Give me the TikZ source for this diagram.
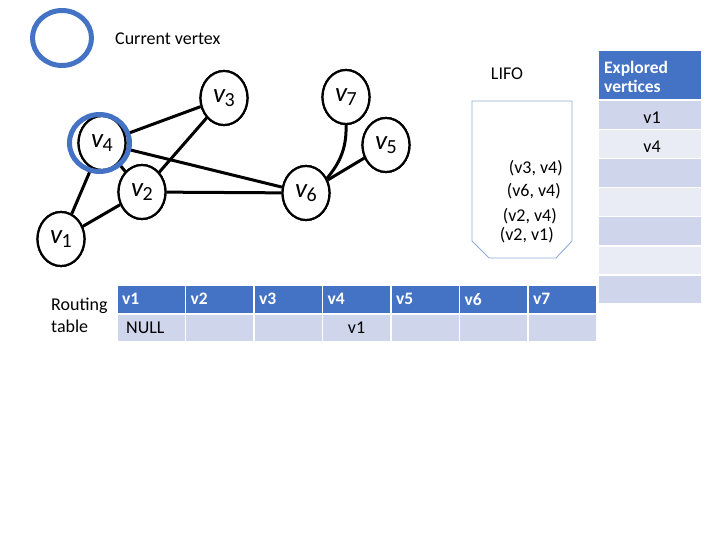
\documentclass[tikz,border=0pt]{standalone}
\usepackage{fontspec}
\setmainfont{Carlito}
\usetikzlibrary{shapes.geometric}
\definecolor{hblue}{HTML}{4472C4}
\definecolor{rowdark}{HTML}{CFD5EA}
\definecolor{rowlight}{HTML}{E9EBF5}
\definecolor{lifoline}{HTML}{8EAADB}
\newcommand\vlab[1]{\fontsize{27}{27}\selectfont\textit{v}\kern-1pt\raisebox{-4pt}{\fontsize{20}{20}\selectfont #1}}
\begin{document}
\begin{tikzpicture}[x=1pt,y=-1pt,
  vert/.style={ellipse, draw=black, line width=2.2pt, minimum width=47pt, minimum height=54pt, inner sep=0pt, fill=white},
  edge/.style={line width=3pt},
  curcirc/.style={draw=hblue, line width=5pt},
  txt/.style={font=\fontsize{18}{21}\selectfont, inner sep=0pt},
  hcell/.style={fill=hblue, draw=white, line width=1.5pt, anchor=north west, inner sep=0pt, minimum width=68.5pt, minimum height=29pt},
  dcell/.style={fill=rowdark, draw=white, line width=1.5pt, anchor=north west, inner sep=0pt, minimum width=68.5pt, minimum height=28pt},
  htxt/.style={font=\fontsize{17.5}{20}\selectfont\bfseries, text=white, inner sep=0pt, anchor=west},
  ecell/.style={draw=white, line width=1.5pt, anchor=north west, inner sep=0pt, minimum width=104pt, minimum height=29pt}
]
\useasboundingbox (0,0) rectangle (720,540);

% legend
\draw[curcirc] (62,38) ellipse [x radius=29.5, y radius=27.5];
\node[txt, anchor=west] (legend) at (115,39) {Current vertex};

% graph vertices
\node[vert] (v1) at (61,239) {\vlab{1}};
\node[vert] (v2) at (142,192) {\vlab{2}};
\node[vert] (v3) at (224,98) {\vlab{3}};
\node[vert] (v4) at (102,143) {\vlab{4}};
\node[vert] (v5) at (386,145) {\vlab{5}};
\node[vert] (v6) at (306,193) {\vlab{6}};
\node[vert] (v7) at (346,97) {\vlab{7}};

% edges (drawn, then vertices redrawn on top)
\draw[edge] (v4) -- (v3);
\draw[edge] (v3) -- (v2);
\draw[edge] (v4) -- (v6);
\draw[edge] (v2) -- (v6);
\draw[edge] (v4) -- (v1);
\draw[edge] (v1) -- (v2);
\draw[edge] (v4) -- (v2);
\draw[edge] (v5) -- (v6);
\draw[edge] (v7.south) .. controls (347,150) and (338,165) .. (v6.35);

\node[vert] at (v1) {\vlab{1}};
\node[vert] at (v2) {\vlab{2}};
\node[vert] at (v3) {\vlab{3}};
\node[vert] at (v5) {\vlab{5}};
\node[vert] at (v6) {\vlab{6}};
\node[vert] at (v7) {\vlab{7}};
\node[vert] at (v4) {\vlab{4}};
\draw[curcirc] (99.5,143) ellipse [x radius=30, y radius=28.5];

% LIFO
\node[txt] (lifo) at (507,74) {LIFO};
\draw[lifoline, line width=0.9pt] (472,101) -- (572,101) -- (572,241) -- (556,258) -- (489,258) -- (472,241) -- cycle;
\node[txt, anchor=east] (s1) at (563,168) {(v3, v4)};
\node[txt, anchor=east] (s2) at (561,191) {(v6, v4)};
\node[txt, anchor=east] (s3) at (557,216) {(v2, v4)};
\node[txt, anchor=east] (s4) at (554,235) {(v2, v1)};

% explored vertices
\node[ecell, fill=hblue, minimum height=49pt] (eh) at (597,50) {};
\node[htxt, align=left] (ehtxt) at (604,77) {Explored\\[-1pt]vertices};
\node[ecell, fill=rowdark] (e1) at (597,100) {};
\node[ecell, fill=rowlight] (e2) at (597,129) {};
\node[ecell, fill=rowdark] (e3) at (597,158) {};
\node[ecell, fill=rowlight] (e4) at (597,187) {};
\node[ecell, fill=rowdark] (e5) at (597,216) {};
\node[ecell, fill=rowlight] (e6) at (597,245) {};
\node[ecell, fill=rowdark] (e7) at (597,274) {};
\node[txt] (e1t) at (652,118) {v1};
\node[txt] (e2t) at (652,147) {v4};

% routing table
\node[txt, align=left, anchor=west] (rt) at (51,315) {Routing\\[1pt]table};
\foreach \i in {1,...,7} {
  \node[hcell] (h\i) at ({116+68.5*(\i-1)},284) {};
  \node[htxt] (h\i t) at ([xshift=6pt]h\i.west) {v\i};
  \node[dcell] (d\i) at ({116+68.5*(\i-1)},313) {};
}
\node[txt, anchor=west] (d1t) at ([xshift=10pt]d1.west) {NULL};
\node[txt] (d4t) at (d4.center) {v1};
\end{tikzpicture}
\end{document}
